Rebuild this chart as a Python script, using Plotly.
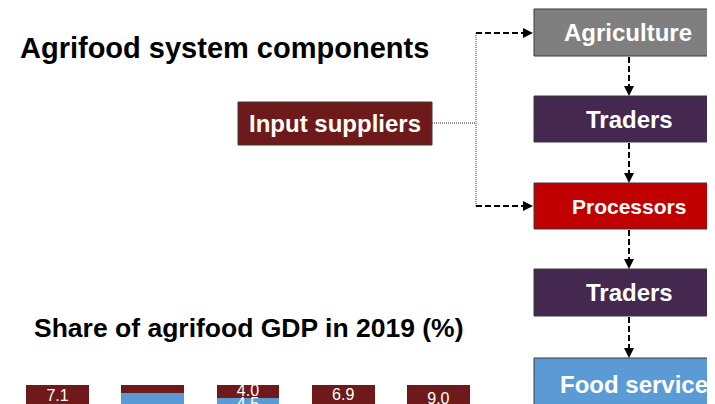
import plotly.graph_objects as go

# --- data -------------------------------------------------------------
bar_groups = ["A", "B", "C", "D", "E"]
input_suppliers_share = [7.1, 2.5, 4.0, 6.9, 9.0]
food_services_share = [21.0, 14.2, 4.5, 17.6, 19.3]

chain_labels = ["Agriculture", "Traders", "Processors", "Traders", "Food services"]
chain_colors = ["#7F7F7F", "#45284F", "#C00000", "#45284F", "#5B9BD5"]
chain_font_sizes = [24, 24, 21, 24, 24]
chain_text_x = [628, 629, 629, 629, 640]

MAROON = "#6F1A1A"
BLUE = "#5B9BD5"
OFF = 8  # the page body puts the figure 8px in from the corner
W, H = 715 - OFF, 404 - OFF
FONT = "Liberation Sans, Arial, sans-serif"
PX_PER_UNIT = 3.25
BAR_TOP = 385


def label(v):
    return f"{v:.1f}" if v >= 3 else ""


fig = go.Figure()

# share of agrifood GDP, stacked bars cut by the bottom edge
fig.add_bar(x=bar_groups, y=input_suppliers_share, name="Input suppliers", marker_color=MAROON)
fig.add_bar(x=bar_groups, y=food_services_share, name="Food services", marker_color=BLUE)
fig.update_traces(marker_line_width=0, hoverinfo="skip")

# segment labels at the middle of each stacked piece
label_x, label_y, label_t = [], [], []
for g, a, b in zip(bar_groups, input_suppliers_share, food_services_share):
    label_x += [g, g]
    label_y += [a / 2, a + b / 2]
    label_t += [label(a), label(b)]
fig.add_scatter(x=label_x, y=label_y, text=label_t, mode="text", cliponaxis=True,
                textfont=dict(color="white", size=16, family=FONT), hoverinfo="skip")

# pixel-space axes for the diagram
fig.add_scatter(x=[OFF], y=[OFF], xaxis="x2", yaxis="y2", mode="markers", marker_opacity=0,
                hoverinfo="skip", showlegend=False)

bar_h = H - (BAR_TOP - OFF)
fig.update_layout(
    width=W, height=H, margin=dict(l=0, r=0, t=0, b=0),
    paper_bgcolor="white", plot_bgcolor="rgba(0,0,0,0)",
    barmode="stack", bargap=0.34, showlegend=False,
    font=dict(family=FONT),
    xaxis=dict(domain=[(9.9 - OFF) / W, (486 - OFF) / W], range=[-0.5, 4.5], visible=False),
    yaxis=dict(domain=[0, bar_h / H], range=[bar_h / PX_PER_UNIT, 0], visible=False),
    xaxis2=dict(domain=[0, 1], range=[OFF, W + OFF], visible=False, anchor="y2"),
    yaxis2=dict(domain=[0, 1], range=[H + OFF, OFF], visible=False, anchor="x2"),
)

shapes = []
annotations = []


def box(x0, y0, x1, y1, color, text, size, text_x=None):
    shapes.append(dict(type="rect", xref="x2", yref="y2", x0=x0, y0=y0, x1=x1, y1=y1,
                       fillcolor=color, line=dict(color="#3A3A3A", width=1)))
    annotations.append(dict(xref="x2", yref="y2", x=text_x or (x0 + x1) / 2, y=(y0 + y1) / 2,
                            text=f"<b>{text}</b>", showarrow=False,
                            font=dict(color="white", size=size, family=FONT)))


def dashed(x0, y0, x1, y1):
    shapes.append(dict(type="line", xref="x2", yref="y2", x0=x0, y0=y0, x1=x1, y1=y1,
                       line=dict(color="black", width=2, dash="6px,3px")))


def head(x, y, direction):
    if direction == "down":
        path = f"M{x - 5},{y - 10} L{x + 5},{y - 10} L{x},{y} Z"
    else:
        path = f"M{x - 10},{y - 5} L{x - 10},{y + 5} L{x},{y} Z"
    shapes.append(dict(type="path", xref="x2", yref="y2", path=path,
                       fillcolor="black", line=dict(color="black", width=0)))


# value chain boxes
tops = [9, 96, 183, 269, 358]
bottoms = [56, 142, 229, 316, 410]
for lab, col, fs, t, b, tx in zip(chain_labels, chain_colors, chain_font_sizes, tops, bottoms, chain_text_x):
    box(534, t, 724, b, col, lab, fs, tx)

for b, t in zip(bottoms[:-1], tops[1:]):
    dashed(629, b + 1, 629, t - 10)
    head(629, t, "down")

# input suppliers and its links
box(238, 102, 432, 145, MAROON, "Input suppliers", 24)
dotted = dict(color="#333333", width=1, dash="1px,1px")
shapes.append(dict(type="line", xref="x2", yref="y2", x0=432, y0=123, x1=476, y1=123, line=dotted))
shapes.append(dict(type="line", xref="x2", yref="y2", x0=476, y0=33, x1=476, y1=206, line=dotted))
for y in (33, 206):
    dashed(476, y, 523, y)
    head(533, y, "right")

# headings
annotations.append(dict(xref="x2", yref="y2", x=18, y=48, xanchor="left", yanchor="middle",
                        text="<b>Agrifood system components</b>", showarrow=False,
                        font=dict(color="black", size=29, family=FONT)))
annotations.append(dict(xref="x2", yref="y2", x=32, y=328, xanchor="left", yanchor="middle",
                        text="<b>Share of agrifood GDP in 2019 (%)</b>", showarrow=False,
                        font=dict(color="black", size=26.5, family=FONT)))

fig.update_layout(shapes=shapes, annotations=annotations)

fig.write_html("out.html")
